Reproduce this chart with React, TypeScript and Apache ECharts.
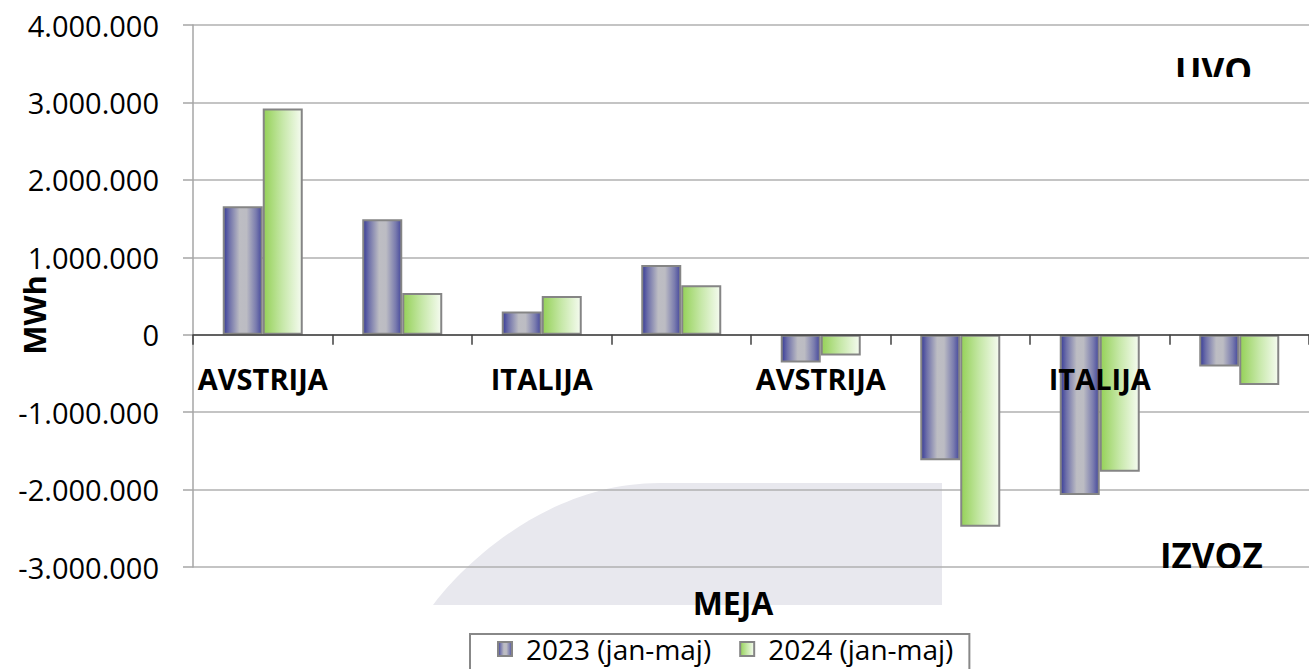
import React, { useEffect, useRef } from "react";
import * as echarts from "echarts";

const categories = ["AVSTRIJA", "HRVAŠKA", "ITALIJA", "MADŽARSKA", "AVSTRIJA", "HRVAŠKA", "ITALIJA", "MADŽARSKA"];
const series2023 = [1660000, 1490000, 300000, 900000, -360000, -1620000, -2070000, -410000];
const series2024 = [2920000, 540000, 500000, 640000, -270000, -2480000, -1770000, -650000];
const seriesNames = ["2023 (jan-maj)", "2024 (jan-maj)"];
const yMin = -3000000;
const yMax = 4000000;
const yStep = 1000000;

const FONT = "'Open Sans', 'Noto Sans', sans-serif";

const shapePath = "M433 605 C455 575 540 483 660 483 L942 483 L942 605 Z";
let registered = false;
function registerShapes() {
  if (registered) return;
  echarts.graphic.registerShape("mejaShape", echarts.graphic.extendPath(shapePath, {}) as any);
  registered = true;
}

function fmt(v: number): string {
  const neg = v < 0;
  const s = Math.abs(Math.round(v)).toString().replace(/\B(?=(\d{3})+(?!\d))/g, ".");
  return (neg ? "-" : "") + s;
}

const grad2023 = {
  type: "linear",
  x: 0,
  y: 0,
  x2: 1,
  y2: 0,
  colorStops: [
    { offset: 0, color: "#383c98" },
    { offset: 0.15, color: "#6f71aa" },
    { offset: 0.42, color: "#bdbdc3" },
    { offset: 0.6, color: "#bcbcc3" },
    { offset: 0.85, color: "#7a7cae" },
    { offset: 1, color: "#46499c" },
  ],
};
const grad2024 = {
  type: "linear",
  x: 0,
  y: 0,
  x2: 1,
  y2: 0,
  colorStops: [
    { offset: 0, color: "#95d158" },
    { offset: 0.5, color: "#c7e8a9" },
    { offset: 1, color: "#f5fbf0" },
  ],
};

export default function App() {
  const ref = useRef<HTMLDivElement>(null);
  useEffect(() => {
    if (!ref.current) return;
    registerShapes();
    const chart = echarts.init(ref.current, null, { renderer: "svg" });
    chart.setOption({
      animation: false,
      backgroundColor: "#ffffff",
      grid: { left: 193, right: -8, top: 25, bottom: 102, containLabel: false },
      legend: {
        data: seriesNames,
        left: 470,
        top: 634,
        orient: "horizontal",
        itemWidth: 14,
        itemHeight: 14,
        itemGap: 28,
        icon: "rect",
        padding: [1, 16, 10, 27],
        borderColor: "#888888",
        borderWidth: 2,
        textStyle: { fontSize: 28, fontFamily: FONT, color: "#000", padding: [0, 0, 0, 9] },
      },
      xAxis: {
        type: "category",
        data: categories,
        z: 10,
        offset: 0,
        axisLine: { show: true, onZero: false, lineStyle: { color: "#404040", width: 1.5 } },
        axisTick: { show: true, interval: 0, length: 10, lineStyle: { color: "#404040", width: 1.5 } },
        axisLabel: {
          interval: 1,
          margin: 29,
          fontSize: 29,
          fontWeight: "bold",
          fontFamily: FONT,
          color: "#000",
        },
        splitLine: { show: false },
      },
      yAxis: {
        type: "value",
        min: yMin,
        max: yMax,
        interval: yStep,
        axisLine: { show: true, lineStyle: { color: "#a6a6a6", width: 1.5 } },
        axisTick: { show: true, length: 10, lineStyle: { color: "#a6a6a6", width: 1.5 } },
        axisLabel: {
          margin: 34,
          fontSize: 29,
          fontFamily: FONT,
          color: "#000",
          formatter: (v: number) => fmt(v),
        },
        splitLine: { show: true, lineStyle: { color: "#b0b0b0", width: 1.5 } },
      },
      series: [
        {
          name: seriesNames[0],
          type: "bar",
          data: series2023,
          barWidth: 40,
          barGap: "0%",
          itemStyle: { color: grad2023, borderColor: "#858585", borderWidth: 2 },
        },
        {
          name: seriesNames[1],
          type: "bar",
          data: series2024,
          barWidth: 40,
          barGap: "0%",
          itemStyle: { color: grad2024, borderColor: "#858585", borderWidth: 2 },
        },
      ],
      graphic: [
        { type: "mejaShape", x: 0, y: 0, z: -1, silent: true, style: { fill: "#e8e8ee" } },
        {
          type: "text",
          x: 34,
          y: 315,
          rotation: Math.PI / 2,
          style: {
            text: "MWh",
            fontSize: 31,
            fontWeight: "bold",
            fontFamily: FONT,
            fill: "#000",
            textAlign: "center",
            textVerticalAlign: "middle",
          },
        },
        {
          type: "text",
          x: 733,
          y: 602,
          style: {
            text: "MEJA",
            fontSize: 32,
            fontWeight: "bold",
            fontFamily: FONT,
            fill: "#000",
            textAlign: "center",
            textVerticalAlign: "middle",
          },
        },
        {
          type: "text",
          x: 1175,
          y: 70,
          z: 20,
          style: {
            text: "UVO",
            fontSize: 35,
            fontWeight: "bold",
            fontFamily: FONT,
            fill: "#000",
            textAlign: "left",
            textVerticalAlign: "middle",
          },
        },
        { type: "rect", z: 21, shape: { x: 1160, y: 77, width: 120, height: 20 }, style: { fill: "#ffffff" } },
        {
          type: "text",
          x: 1160,
          y: 555,
          z: 20,
          style: {
            text: "IZVOZ",
            fontSize: 35,
            fontWeight: "bold",
            fontFamily: FONT,
            fill: "#000",
            textAlign: "left",
            textVerticalAlign: "middle",
          },
        },
        { type: "rect", z: 21, shape: { x: 1150, y: 568, width: 130, height: 22 }, style: { fill: "#ffffff" } },
      ],
    });
    // Move the category axis (line, ticks and labels) up to the value 0, as in the reference.
    const zeroY = chart.convertToPixel({ yAxisIndex: 0 }, 0) as number;
    const bottomY = chart.convertToPixel({ yAxisIndex: 0 }, yMin) as number;
    chart.setOption({ xAxis: { offset: zeroY - bottomY } });
    return () => chart.dispose();
  }, []);
  return (
    <div
      ref={ref}
      style={{ position: "absolute", left: 0, top: 0, width: 1309, height: 669, overflow: "hidden" }}
    />
  );
}
